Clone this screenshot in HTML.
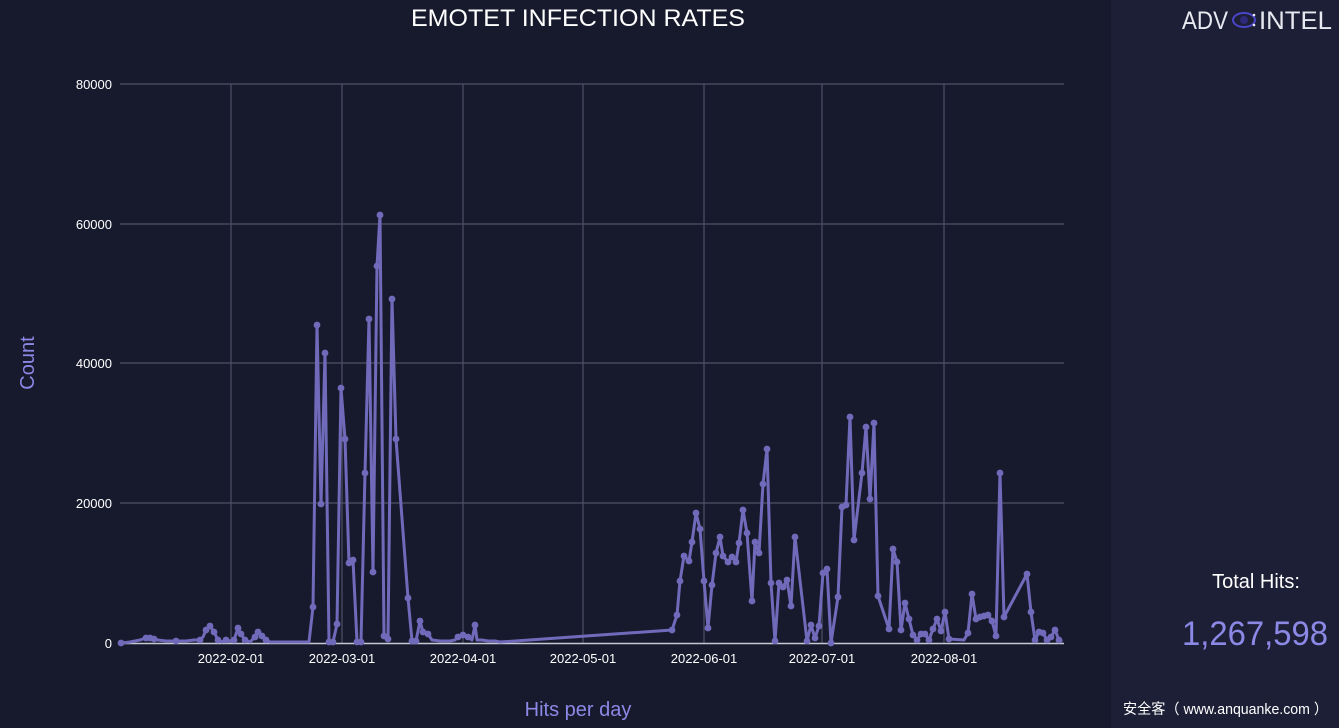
<!DOCTYPE html>
<html><head><meta charset="utf-8"><style>
html,body{margin:0;padding:0;background:#171a2d;}
svg{display:block;}
</style></head><body>
<svg width="1339" height="728" viewBox="0 0 1339 728" xmlns="http://www.w3.org/2000/svg" font-family="Liberation Sans, sans-serif">
<rect x="0" y="0" width="1339" height="728" fill="#171a2d"/>
<rect x="1111" y="0" width="228" height="728" fill="#1d1f36"/>
<text x="411" y="26" fill="#ffffff" font-size="24" textLength="334" lengthAdjust="spacingAndGlyphs">EMOTET INFECTION RATES</text>
<g stroke="#4f5166" stroke-width="1.2">
<line x1="120" y1="84" x2="1064" y2="84"/>
<line x1="120" y1="224" x2="1064" y2="224"/>
<line x1="120" y1="363" x2="1064" y2="363"/>
<line x1="120" y1="503" x2="1064" y2="503"/>
<line x1="231" y1="84" x2="231" y2="643"/>
<line x1="342" y1="84" x2="342" y2="643"/>
<line x1="463" y1="84" x2="463" y2="643"/>
<line x1="583" y1="84" x2="583" y2="643"/>
<line x1="704" y1="84" x2="704" y2="643"/>
<line x1="822" y1="84" x2="822" y2="643"/>
<line x1="944" y1="84" x2="944" y2="643"/>
</g>
<line x1="120" y1="643.5" x2="1064" y2="643.5" stroke="#c8c8d4" stroke-width="1.5"/>
<g fill="#ffffff" font-size="13" text-anchor="end">
<text x="112" y="89">80000</text>
<text x="112" y="229">60000</text>
<text x="112" y="368">40000</text>
<text x="112" y="508">20000</text>
<text x="112" y="648">0</text>
</g>
<g fill="#ffffff" font-size="13" text-anchor="middle">
<text x="231" y="663">2022-02-01</text>
<text x="342" y="663">2022-03-01</text>
<text x="463" y="663">2022-04-01</text>
<text x="583" y="663">2022-05-01</text>
<text x="704" y="663">2022-06-01</text>
<text x="822" y="663">2022-07-01</text>
<text x="944" y="663">2022-08-01</text>
</g>
<text x="0" y="0" transform="translate(34,363) rotate(-90)" text-anchor="middle" fill="#8c88e6" font-size="20">Count</text>
<text x="578" y="716" text-anchor="middle" fill="#8c88e6" font-size="20">Hits per day</text>
<polyline fill="none" stroke="#6f6bba" stroke-width="3" stroke-linejoin="round" points="121,643 130,642 140,640 146,638 150,638 154,639 158,640 166,641 176,641 186,641 194,640 200,640 203,637 206,630 210,626 214,632 218,640 222,642 226,640 230,641 234,640 238,628 241,634 245,640 250,642 255,637 258,632 262,636 266,640 270,642 278,642 286,642 294,642 302,642 309,642 313,607 317,325 321,504 325,353 329,642 333,642 337,624 341,388 345,439 349,563 353,560 357,642 361,642 365,473 369,319 373,572 377,266 380,215 384,636 388,639 392,299 396,439 408,598 412,641 416,641 420,621 423,632 428,634 432,640 440,641 450,641 455,640 458,637 463,635 468,637 472,640 475,625 477,640 482,640 488,641 495,641 500,642 672,630 677,615 680,581 684,556 689,561 692,542 696,513 700,529 704,581 708,628 712,585 716,553 720,537 723,556 728,562 732,557 736,562 739,543 743,510 747,533 752,601 755,542 759,553 763,484 767,449 771,583 775,641 779,583 783,587 787,580 791,606 795,537 807,641 811,625 815,638 819,626 823,573 827,569 831,643 838,597 842,507 846,505 850,417 854,540 862,473 866,427 870,499 874,423 878,596 889,629 893,549 897,562 901,630 905,603 909,619 913,635 917,640 921,634 925,634 929,640 933,629 937,619 941,631 945,612 949,639 964,640 968,633 972,594 976,619 980,617 984,616 988,615 992,621 996,636 1000,473 1004,617 1027,574 1031,612 1035,640 1039,632 1043,633 1047,640 1051,637 1055,630 1059,640 1062,642"/>
<g fill="#6f6bba">
<circle cx="121" cy="643" r="3.4"/><circle cx="146" cy="638" r="3.4"/><circle cx="150" cy="638" r="3.4"/><circle cx="154" cy="639" r="3.4"/><circle cx="176" cy="641" r="3.4"/><circle cx="200" cy="640" r="3.4"/><circle cx="206" cy="630" r="3.4"/><circle cx="210" cy="626" r="3.4"/><circle cx="214" cy="632" r="3.4"/><circle cx="218" cy="640" r="3.4"/><circle cx="226" cy="640" r="3.4"/><circle cx="234" cy="640" r="3.4"/><circle cx="238" cy="628" r="3.4"/><circle cx="241" cy="634" r="3.4"/><circle cx="245" cy="640" r="3.4"/><circle cx="255" cy="637" r="3.4"/><circle cx="258" cy="632" r="3.4"/><circle cx="262" cy="636" r="3.4"/><circle cx="266" cy="640" r="3.4"/>
<circle cx="313" cy="607" r="3.4"/><circle cx="317" cy="325" r="3.4"/><circle cx="321" cy="504" r="3.4"/><circle cx="325" cy="353" r="3.4"/><circle cx="329" cy="642" r="3.4"/><circle cx="333" cy="642" r="3.4"/><circle cx="337" cy="624" r="3.4"/><circle cx="341" cy="388" r="3.4"/><circle cx="345" cy="439" r="3.4"/><circle cx="349" cy="563" r="3.4"/><circle cx="353" cy="560" r="3.4"/><circle cx="357" cy="642" r="3.4"/><circle cx="361" cy="642" r="3.4"/><circle cx="365" cy="473" r="3.4"/><circle cx="369" cy="319" r="3.4"/><circle cx="373" cy="572" r="3.4"/><circle cx="377" cy="266" r="3.4"/><circle cx="380" cy="215" r="3.4"/><circle cx="384" cy="636" r="3.4"/><circle cx="388" cy="639" r="3.4"/><circle cx="392" cy="299" r="3.4"/><circle cx="396" cy="439" r="3.4"/><circle cx="408" cy="598" r="3.4"/><circle cx="412" cy="641" r="3.4"/><circle cx="416" cy="641" r="3.4"/><circle cx="420" cy="621" r="3.4"/><circle cx="423" cy="632" r="3.4"/><circle cx="428" cy="634" r="3.4"/><circle cx="458" cy="637" r="3.4"/><circle cx="463" cy="635" r="3.4"/><circle cx="468" cy="637" r="3.4"/><circle cx="475" cy="625" r="3.4"/>
<circle cx="672" cy="630" r="3.4"/><circle cx="677" cy="615" r="3.4"/><circle cx="680" cy="581" r="3.4"/><circle cx="684" cy="556" r="3.4"/><circle cx="689" cy="561" r="3.4"/><circle cx="692" cy="542" r="3.4"/><circle cx="696" cy="513" r="3.4"/><circle cx="700" cy="529" r="3.4"/><circle cx="704" cy="581" r="3.4"/><circle cx="708" cy="628" r="3.4"/><circle cx="712" cy="585" r="3.4"/><circle cx="716" cy="553" r="3.4"/><circle cx="720" cy="537" r="3.4"/><circle cx="723" cy="556" r="3.4"/><circle cx="728" cy="562" r="3.4"/><circle cx="732" cy="557" r="3.4"/><circle cx="736" cy="562" r="3.4"/><circle cx="739" cy="543" r="3.4"/><circle cx="743" cy="510" r="3.4"/><circle cx="747" cy="533" r="3.4"/><circle cx="752" cy="601" r="3.4"/><circle cx="755" cy="542" r="3.4"/><circle cx="759" cy="553" r="3.4"/><circle cx="763" cy="484" r="3.4"/><circle cx="767" cy="449" r="3.4"/><circle cx="771" cy="583" r="3.4"/><circle cx="775" cy="641" r="3.4"/><circle cx="779" cy="583" r="3.4"/><circle cx="783" cy="587" r="3.4"/><circle cx="787" cy="580" r="3.4"/><circle cx="791" cy="606" r="3.4"/><circle cx="795" cy="537" r="3.4"/><circle cx="807" cy="641" r="3.4"/><circle cx="811" cy="625" r="3.4"/><circle cx="815" cy="638" r="3.4"/><circle cx="819" cy="626" r="3.4"/><circle cx="823" cy="573" r="3.4"/><circle cx="827" cy="569" r="3.4"/><circle cx="831" cy="643" r="3.4"/><circle cx="838" cy="597" r="3.4"/><circle cx="842" cy="507" r="3.4"/><circle cx="846" cy="505" r="3.4"/><circle cx="850" cy="417" r="3.4"/><circle cx="854" cy="540" r="3.4"/><circle cx="862" cy="473" r="3.4"/><circle cx="866" cy="427" r="3.4"/><circle cx="870" cy="499" r="3.4"/><circle cx="874" cy="423" r="3.4"/><circle cx="878" cy="596" r="3.4"/><circle cx="889" cy="629" r="3.4"/><circle cx="893" cy="549" r="3.4"/><circle cx="897" cy="562" r="3.4"/><circle cx="901" cy="630" r="3.4"/><circle cx="905" cy="603" r="3.4"/><circle cx="909" cy="619" r="3.4"/><circle cx="913" cy="635" r="3.4"/><circle cx="917" cy="640" r="3.4"/><circle cx="921" cy="634" r="3.4"/><circle cx="925" cy="634" r="3.4"/><circle cx="929" cy="640" r="3.4"/><circle cx="933" cy="629" r="3.4"/><circle cx="937" cy="619" r="3.4"/><circle cx="941" cy="631" r="3.4"/><circle cx="945" cy="612" r="3.4"/><circle cx="949" cy="639" r="3.4"/><circle cx="968" cy="633" r="3.4"/><circle cx="972" cy="594" r="3.4"/><circle cx="976" cy="619" r="3.4"/><circle cx="980" cy="617" r="3.4"/><circle cx="984" cy="616" r="3.4"/><circle cx="988" cy="615" r="3.4"/><circle cx="992" cy="621" r="3.4"/><circle cx="996" cy="636" r="3.4"/><circle cx="1000" cy="473" r="3.4"/><circle cx="1004" cy="617" r="3.4"/><circle cx="1027" cy="574" r="3.4"/><circle cx="1031" cy="612" r="3.4"/><circle cx="1035" cy="640" r="3.4"/><circle cx="1039" cy="632" r="3.4"/><circle cx="1043" cy="633" r="3.4"/><circle cx="1047" cy="640" r="3.4"/><circle cx="1051" cy="637" r="3.4"/><circle cx="1055" cy="630" r="3.4"/><circle cx="1059" cy="640" r="3.4"/>
</g>
<g fill="#e8e8f0">
<text x="1182" y="29" font-size="25" textLength="46" lengthAdjust="spacingAndGlyphs">ADV</text>
<ellipse cx="1244" cy="20" rx="11" ry="7" fill="none" stroke="#4a44c8" stroke-width="2"/>
<circle cx="1244" cy="20" r="4" fill="#2e2a7a"/>
<circle cx="1254" cy="15" r="1.3"/>
<circle cx="1254" cy="25" r="1.3"/>
<text x="1259" y="29" font-size="25" textLength="73" lengthAdjust="spacingAndGlyphs">INTEL</text>
</g>
<text x="1256" y="588" text-anchor="middle" fill="#ffffff" font-size="20">Total Hits:</text>
<text x="1182" y="645" fill="#8c88e6" font-size="34" textLength="146" lengthAdjust="spacingAndGlyphs">1,267,598</text>
<text x="1123" y="714" fill="#ffffff" font-size="14.5" font-family="Liberation Sans, Noto Sans CJK SC, sans-serif" textLength="205" lengthAdjust="spacingAndGlyphs">安全客（ www.anquanke.com ）</text>
</svg>
</body></html>
